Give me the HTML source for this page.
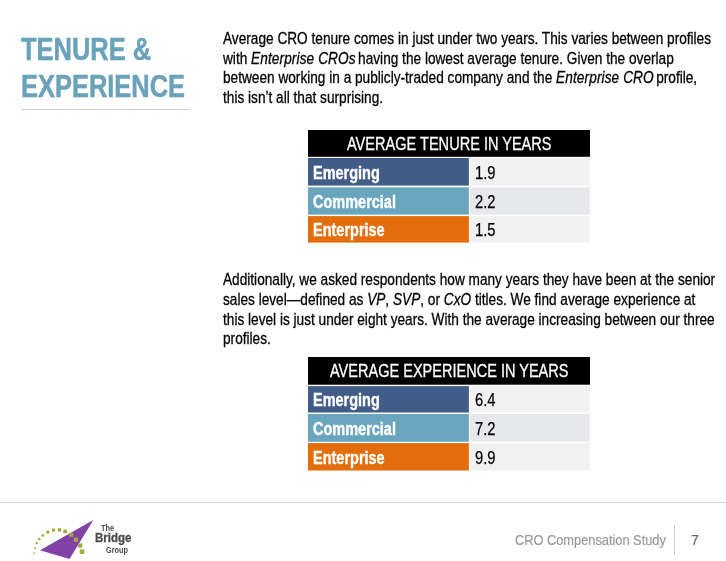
<!DOCTYPE html>
<html><head><meta charset="utf-8"><title>Tenure &amp; Experience</title>
<style>
html,body{margin:0;padding:0;background:#fff;}
body{width:726px;height:561px;position:relative;overflow:hidden;font-family:"Liberation Sans",sans-serif;color:#000;}
.ln{position:absolute;white-space:nowrap;transform-origin:0 0;line-height:1;}
.t{font-weight:bold;font-size:30.6px;color:#6aa2ba;left:21.3px;-webkit-text-stroke:0.5px #6aa2ba;}
.b{font-size:16.6px;left:222.5px;color:#000;-webkit-text-stroke:0.3px #000;}
.b i{font-style:italic;}
.b i.w{letter-spacing:0.12px;margin-right:-1.7px;}
.tbl{position:absolute;left:308px;width:282px;}
.tbl div{position:absolute;}
.hd{left:0;width:282px;}
.hd span,.lc span,.rc span{position:absolute;white-space:nowrap;transform-origin:0 0;line-height:1;}
.hd span{color:#fff;font-size:18.1px;-webkit-text-stroke:0.3px #fff;}
.lc{left:0;width:161px;}
.lc span{color:#fff;font-weight:bold;font-size:18px;left:5.2px;-webkit-text-stroke:0.4px #fff;}
.rc{left:162px;width:120px;}
.rc span{color:#000;font-size:18px;left:4.7px;-webkit-text-stroke:0.25px #000;}
.ft{color:#999;font-size:15.5px;-webkit-text-stroke:0.2px #999;}
</style></head><body>
<div class="ln t" id="t1" style="top:34.2px;transform:scaleX(.832)">TENURE &amp;</div>
<div class="ln t" id="t2" style="top:71.2px;transform:scaleX(.832)">EXPERIENCE</div>
<div style="position:absolute;left:21px;top:109px;width:169px;height:1px;background:#d0d0d0"></div>

<div class="ln b" id="p1" style="top:30.5px;transform:scaleX(.8225)">Average CRO tenure comes in just under two years. This varies between profiles</div>
<div class="ln b" id="p2" style="top:50.5px;transform:scaleX(.8225)">with <i class="w">Enterprise CROs</i> having the lowest average tenure. Given the overlap</div>
<div class="ln b" id="p3" style="top:69.5px;transform:scaleX(.8225)">between working in a publicly-traded company and the <i class="w">Enterprise CRO</i> profile,</div>
<div class="ln b" id="p4" style="top:89.5px;transform:scaleX(.8225)">this isn’t all that surprising.</div>

<div class="tbl" style="top:130px;height:114px">
  <svg style="position:absolute;left:0;top:0" width="282" height="114" viewBox="308 130 282 114"><rect x="308" y="130.0" width="282" height="26.8" fill="#000"/><rect x="308" y="158.0" width="160.9" height="27.6" fill="#415c86"/><rect x="470.2" y="158.0" width="119.8" height="27.6" fill="#f1f1f1"/><rect x="308" y="187.3" width="160.9" height="27.3" fill="#69a6bd"/><rect x="470.2" y="187.3" width="119.8" height="27.3" fill="#e7e8eb"/><rect x="308" y="216.1" width="160.9" height="26.5" fill="#e46d0b"/><rect x="470.2" y="216.1" width="119.8" height="26.5" fill="#f1f1f1"/></svg>
  <div class="hd" style="top:0;height:27px"><span id="h1" style="left:38.9px;top:5px;transform:scaleX(.804)">AVERAGE TENURE IN YEARS</span></div>
  <div class="lc" style="top:34px;height:20px"><span style="top:0;transform:scaleX(.805)">Emerging</span></div>
  <div class="rc" style="top:34px;height:20px"><span style="top:0;transform:scaleX(.82)">1.9</span></div>
  <div class="lc" style="top:63px;height:20px"><span style="top:0;transform:scaleX(.805)">Commercial</span></div>
  <div class="rc" style="top:63px;height:20px"><span style="top:0;transform:scaleX(.82)">2.2</span></div>
  <div class="lc" style="top:91px;height:20px"><span style="top:0;transform:scaleX(.805)">Enterprise</span></div>
  <div class="rc" style="top:91px;height:20px"><span style="top:0;transform:scaleX(.82)">1.5</span></div>
</div>

<div class="ln b" id="q1" style="top:271.5px;transform:scaleX(.8225)">Additionally, we asked respondents how many years they have been at the senior</div>
<div class="ln b" id="q2" style="top:291.5px;transform:scaleX(.8225)">sales level—defined as <i>VP</i>, <i>SVP</i>, or <i>CxO</i> titles. We find average experience at</div>
<div class="ln b" id="q3" style="top:311.5px;transform:scaleX(.8225)">this level is just under eight years. With the average increasing between our three</div>
<div class="ln b" id="q4" style="top:330.5px;transform:scaleX(.8225)">profiles.</div>

<div class="tbl" style="top:357px;height:115px">
  <svg style="position:absolute;left:0;top:0" width="282" height="115" viewBox="308 357 282 115"><rect x="308" y="357.0" width="282" height="27.7" fill="#000"/><rect x="308" y="386.1" width="160.9" height="26.4" fill="#415c86"/><rect x="470.2" y="386.1" width="119.8" height="26.4" fill="#f1f1f1"/><rect x="308" y="414.0" width="160.9" height="27.7" fill="#69a6bd"/><rect x="470.2" y="414.0" width="119.8" height="27.7" fill="#e7e8eb"/><rect x="308" y="443.1" width="160.9" height="27.4" fill="#e46d0b"/><rect x="470.2" y="443.1" width="119.8" height="27.4" fill="#f1f1f1"/></svg>
  <div class="hd" style="top:0;height:27px"><span id="h2" style="left:21.8px;top:5px;transform:scaleX(.803)">AVERAGE EXPERIENCE IN YEARS</span></div>
  <div class="lc" style="top:33.6px;height:20px"><span style="top:0;transform:scaleX(.805)">Emerging</span></div>
  <div class="rc" style="top:33.6px;height:20px"><span style="top:0;transform:scaleX(.82)">6.4</span></div>
  <div class="lc" style="top:63px;height:20px"><span style="top:0;transform:scaleX(.805)">Commercial</span></div>
  <div class="rc" style="top:63px;height:20px"><span style="top:0;transform:scaleX(.82)">7.2</span></div>
  <div class="lc" style="top:92px;height:20px"><span style="top:0;transform:scaleX(.805)">Enterprise</span></div>
  <div class="rc" style="top:92px;height:20px"><span style="top:0;transform:scaleX(.82)">9.9</span></div>
</div>

<div style="position:absolute;left:0;top:502px;width:726px;height:1px;background:#d9d9d9"></div>

<svg style="position:absolute;left:20px;top:510px" width="130" height="51" viewBox="20 510 130 51">
  <polygon points="93.4,520 40,550.35 69.5,559.1" fill="#8142a8"/>
  <g fill="#a4a93e"><rect x="33.28" y="552.55" width="1.4" height="1.4"/><rect x="34.05" y="547.55" width="1.7" height="1.7"/><rect x="35.65" y="542.15" width="2.1" height="2.1"/><rect x="38.15" y="537.95" width="2.3" height="2.3"/><rect x="41.65" y="534.15" width="2.5" height="2.5"/><rect x="46.35" y="530.65" width="2.9" height="2.9"/><rect x="52.00" y="528.55" width="3.1" height="3.1"/><rect x="57.80" y="528.20" width="3.4" height="3.4"/><rect x="63.30" y="529.60" width="3.6" height="3.6"/><rect x="69.20" y="532.70" width="4.0" height="4.0"/><rect x="73.85" y="537.65" width="4.1" height="4.1"/><rect x="77.95" y="543.35" width="4.3" height="4.3"/><rect x="79.75" y="549.35" width="4.5" height="4.5"/></g>
</svg>
<div class="ln" id="lg1" style="left:100.6px;top:523.8px;font-size:8.6px;color:#4a4a4a;font-weight:bold;transform:scaleX(.86)">The</div>
<div class="ln" id="lg2" style="left:94.8px;top:531.2px;font-size:13px;color:#4a4a4a;font-weight:bold;-webkit-text-stroke:0.3px #4a4a4a;transform:scaleX(.885)">Bridge</div>
<div class="ln" id="lg3" style="left:105.8px;top:545.6px;font-size:8.6px;color:#4a4a4a;font-weight:bold;transform:scaleX(.85)">Group</div>

<div class="ln ft" id="f1" style="left:514.7px;top:532.2px;transform:scaleX(.826)">CRO Compensation Study</div>
<div style="position:absolute;left:674px;top:525px;width:1px;height:29.5px;background:#cfcfcf"></div>
<div class="ln ft" id="f2" style="left:690.8px;top:532.2px;color:#666;-webkit-text-stroke:0.2px #666;transform:scaleX(.92)">7</div>
</body></html>
